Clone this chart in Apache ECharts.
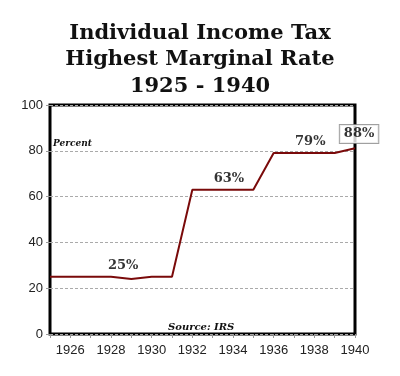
<!DOCTYPE html>
<html>
<head>
<meta charset="utf-8">
<script src="https://cdn.jsdelivr.net/npm/echarts@6/dist/echarts.min.js"></script>
<style>
  html, body { margin: 0; padding: 0; background: #fff; }
  #chart { width: 400px; height: 376px; }
</style>
</head>
<body>
<div id="chart"></div>
<script>
// top marginal rate by year
const years = [1925, 1926, 1927, 1928, 1929, 1930, 1931, 1932, 1933, 1934, 1935, 1936, 1937, 1938, 1939, 1940];
const rates = [25, 25, 25, 25, 24, 25, 25, 63, 63, 63, 63, 79, 79, 79, 79, 81.1];

// callouts in data coordinates
const noteYears = [1928.6, 1933.8, 1937.8, 1940.2];
const noteValues = [30, 68, 84, 87.3];
const noteTexts = ["25%", "63%", "79%", "88%"];

const yTicks = [0, 20, 40, 60, 80, 100];

const chart = echarts.init(document.getElementById("chart"));

const serif = "'DejaVu Serif', 'Liberation Serif', serif";
const sans = "'Liberation Sans', Arial, sans-serif";

chart.setOption({
  animation: false,
  title: {
    text: "Individual Income Tax\nHighest Marginal Rate\n1925 - 1940",
    left: "center",
    top: 15,
    textStyle: {
      fontFamily: serif,
      fontWeight: "bold",
      fontSize: 21,
      lineHeight: 26.5,
      color: "#111",
    },
  },
  grid: {
    left: 50,
    right: 45,
    top: 105,
    bottom: 42,
    show: true,
    borderColor: "#000",
    borderWidth: 3,
  },
  xAxis: {
    type: "value",
    min: 1925,
    max: 1940,
    interval: 1,
    axisLine: { show: false },
    axisTick: { show: true, length: 4, lineStyle: { color: "#999" } },
    splitLine: { show: false },
    axisLabel: {
      color: "#222",
      fontFamily: sans,
      fontSize: 13,
      margin: 10,
      formatter: (v) => (v % 2 === 0 ? String(v) : ""),
    },
  },
  yAxis: {
    type: "value",
    min: yTicks[0],
    max: yTicks[yTicks.length - 1],
    interval: 20,
    axisLine: { show: false },
    axisTick: { show: true, length: 4, lineStyle: { color: "#999" } },
    splitLine: {
      show: true,
      lineStyle: { color: "#aaa", type: [3, 2], width: 1 },
    },
    axisLabel: {
      color: "#222",
      fontFamily: sans,
      fontSize: 13,
      margin: 7,
    },
  },
  series: [
    {
      type: "line",
      data: years.map((y, i) => [y, rates[i]]),
      showSymbol: false,
      lineStyle: { color: "#7a0a0a", width: 2 },
      z: 3,
    },
    {
      type: "scatter",
      symbolSize: 0,
      clip: false,
      data: noteYears.map((y, i) => {
        const item = { value: [y, noteValues[i], noteTexts[i]] };
        if (i === noteYears.length - 1) {
          // last callout sits in a box
          item.label = {
            backgroundColor: "#fff",
            borderColor: "#888",
            borderWidth: 1,
            padding: [3, 4, 2, 4],
          };
        }
        return item;
      }),
      label: {
        show: true,
        position: [0, 0],
        align: "center",
        verticalAlign: "middle",
        formatter: (p) => p.value[2],
        fontFamily: serif,
        fontWeight: "bold",
        fontSize: 13,
        color: "#000",
        textBorderWidth: 0,
      },
      z: 5,
    },
  ],
  graphic: [
    {
      type: "text",
      left: 53,
      top: 139,
      style: {
        text: "Percent",
        font: "italic bold 9px " + serif,
        fill: "#111",
      },
    },
    {
      type: "text",
      left: 168,
      top: 322,
      style: {
        text: "Source: IRS",
        font: "italic bold 10px " + serif,
        fill: "#111",
      },
    },
  ],
});
</script>
</body>
</html>
